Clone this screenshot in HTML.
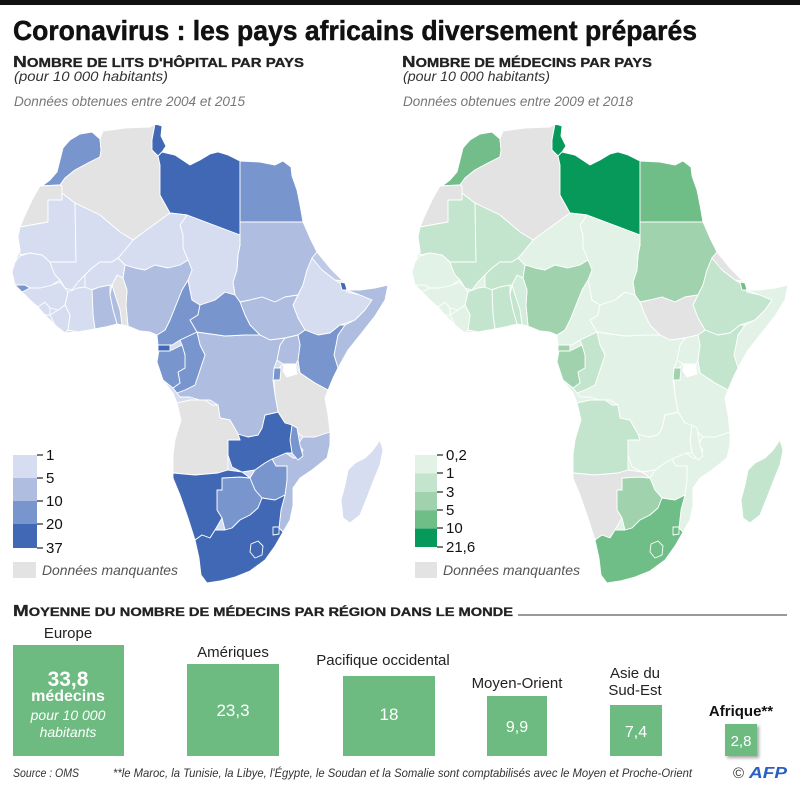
<!DOCTYPE html>
<html><head><meta charset="utf-8"><style>
html,body{margin:0;padding:0;background:#fff;}
svg{display:block;}
</style></head><body>
<svg width="800" height="790" viewBox="0 0 800 790" xmlns="http://www.w3.org/2000/svg" xmlns:xlink="http://www.w3.org/1999/xlink" font-family="'Liberation Sans', sans-serif">
<defs>
<filter id="sh" x="-30%" y="-30%" width="160%" height="160%"><feDropShadow dx="2" dy="2" stdDeviation="1.5" flood-color="#000" flood-opacity="0.35"/></filter>
<path id="af" d="M80,134 L92,132 L100,139 L103,131 L125,128 L150,127 L155,124 L162,126 L161,136 L166,146 L162,152 L175,155 L190,165 L200,160 L210,154 L218,152 L228,155 L240,161 L260,162 L275,165 L283,161 L291,167 L292,176 L297,190 L300,205 L303,220 L310,238 L317,252 L330,268 L343,281 L347,290 L360,290 L375,288 L388,285 L385,300 L375,316 L360,335 L348,350 L338,368 L330,385 L325,398 L328,415 L330,432 L330,445 L327,458 L312,470 L300,478 L293,488 L293,505 L290,520 L283,532 L275,546 L265,560 L250,571 L235,577 L220,581 L207,583 L201,575 L199,558 L195,540 L188,518 L180,495 L173,478 L173,455 L175,440 L181,420 L177,403 L173,393 L163,380 L157,362 L159,348 L157,335 L150,332 L140,331 L128,326 L117,324 L105,327 L92,330 L78,332 L65,333 L55,325 L45,315 L38,307 L30,300 L22,292 L15,285 L12,272 L15,262 L20,250 L18,237 L20,227 L25,215 L33,198 L40,186 L50,180 L57,172 L60,160 L63,148 L70,140 Z"/>
<path id="ma" d="M80,134 L92,132 L100,139 L101,150 L100,157 L88,163 L75,170 L65,178 L60,185 L42,186 L50,180 L57,172 L60,160 L63,148 L70,140 Z"/>
<path id="ws" d="M40,186 L60,185 L62,186 L62,200 L48,200 L48,222 L20,227 L25,215 L33,198 Z"/>
<path id="mr" d="M20,227 L48,222 L48,200 L62,200 L62,193 L75,203 L76,262 L50,262 L42,255 L30,253 L20,255 L20,250 L18,237 Z"/>
<path id="dz" d="M100,139 L103,131 L125,128 L150,127 L155,124 L152,140 L158,152 L158,156 L160,165 L160,195 L170,213 L133,240 L120,232 L100,215 L75,203 L62,193 L62,186 L60,185 L65,178 L75,170 L88,163 L100,157 L101,150 Z"/>
<path id="tn" d="M155,124 L162,126 L161,136 L166,146 L162,152 L158,156 L152,150 L152,140 Z"/>
<path id="ly" d="M158,156 L162,152 L175,155 L190,165 L200,160 L210,154 L218,152 L228,155 L240,161 L240,235 L187,215 L170,213 L160,195 L160,165 Z"/>
<path id="eg" d="M240,161 L260,162 L275,165 L283,161 L291,167 L292,176 L297,190 L300,205 L303,222 L240,222 Z"/>
<path id="sd" d="M240,222 L303,222 L310,238 L317,252 L312,258 L307,270 L303,285 L298,295 L285,297 L275,302 L262,297 L250,300 L240,302 L235,295 L233,282 L237,270 L238,255 L240,245 Z"/>
<path id="er" d="M317,252 L330,268 L343,281 L335,280 L322,270 L312,265 L312,258 Z"/>
<path id="et" d="M312,258 L322,270 L335,280 L343,285 L347,292 L360,295 L372,300 L365,310 L355,320 L340,325 L330,333 L318,335 L305,330 L298,318 L293,305 L298,295 L303,285 L307,270 Z"/>
<path id="dj" d="M340,282 L345,283 L347,290 L342,290 Z"/>
<path id="so" d="M347,290 L360,290 L375,288 L388,285 L385,300 L375,316 L360,335 L348,350 L338,368 L334,355 L338,335 L345,325 L355,320 L365,310 L372,300 L360,295 Z"/>
<path id="ke" d="M318,335 L330,333 L340,325 L345,325 L338,335 L334,355 L338,368 L333,378 L328,390 L315,383 L300,373 L298,360 L300,345 L298,335 L305,330 Z"/>
<path id="ss" d="M240,302 L250,300 L262,297 L275,302 L285,297 L298,295 L293,305 L298,318 L305,330 L298,335 L285,338 L270,340 L260,335 L250,325 L245,315 Z"/>
<path id="ug" d="M285,338 L298,335 L300,345 L298,360 L296,364 L283,364 L277,360 L280,345 Z"/>
<path id="tz" d="M283,364 L296,364 L300,373 L315,383 L328,390 L325,398 L328,415 L330,432 L315,437 L303,437 L295,430 L285,423 L278,412 L275,395 L274,380 L277,370 Z"/>
<path id="lv" d="M284,364 L295,364 L297,374 L287,377 L283,371 Z"/>
<path id="rw" d="M274,368 L281,368 L280,380 L273,380 Z"/>
<path id="mz" d="M303,437 L315,437 L330,432 L330,445 L327,458 L312,470 L300,478 L293,488 L293,505 L290,520 L283,532 L279,528 L281,510 L285,495 L287,480 L287,466 L276,466 L272,459 L286,453 L293,458 L300,458 L303,450 L298,444 Z"/>
<path id="mw" d="M292,425 L297,428 L300,445 L303,456 L298,460 L292,453 L290,440 Z"/>
<path id="zm" d="M265,415 L278,412 L285,423 L292,425 L290,440 L292,453 L286,453 L272,459 L265,463 L255,470 L242,472 L232,467 L228,455 L228,440 L240,440 L238,434 L248,437 L258,435 L262,428 Z"/>
<path id="cd" d="M197,332 L225,336 L245,335 L260,335 L270,340 L285,338 L280,345 L277,360 L274,368 L273,380 L275,395 L278,412 L265,415 L262,428 L258,435 L248,437 L238,434 L230,420 L220,418 L218,405 L210,400 L200,400 L190,397 L180,397 L177,393 L185,390 L195,385 L200,370 L205,355 L200,345 Z"/>
<path id="ao" d="M177,403 L190,400 L205,400 L212,405 L218,405 L220,418 L230,420 L238,434 L240,440 L228,440 L228,470 L218,473 L195,475 L173,473 L173,455 L175,440 L181,420 Z"/>
<path id="cg" d="M180,340 L197,332 L200,345 L205,355 L200,370 L195,385 L185,390 L177,393 L173,388 L180,383 L178,372 L185,368 L185,355 L182,345 Z"/>
<path id="ga" d="M159,350 L172,350 L182,345 L185,355 L185,368 L178,372 L180,383 L173,388 L163,380 L157,362 Z"/>
<path id="gq" d="M158,345 L170,345 L170,351 L158,351 Z"/>
<path id="cm" d="M157,335 L165,330 L170,320 L178,300 L182,290 L188,280 L190,290 L192,300 L200,305 L198,315 L190,320 L197,332 L180,340 L172,345 L158,345 Z"/>
<path id="cf" d="M190,320 L198,315 L200,305 L215,300 L225,292 L235,295 L240,302 L245,315 L250,325 L260,335 L245,335 L225,336 L197,332 Z"/>
<path id="td" d="M187,215 L240,235 L240,245 L238,255 L237,270 L233,282 L235,295 L225,292 L215,300 L200,305 L192,300 L190,290 L188,280 L192,270 L188,260 L183,248 L183,235 L180,225 Z"/>
<path id="ne" d="M133,240 L170,213 L187,215 L180,225 L183,235 L183,248 L188,260 L180,265 L168,268 L155,265 L145,270 L135,268 L125,265 L118,258 L125,250 Z"/>
<path id="ng" d="M125,265 L135,268 L145,270 L155,265 L168,268 L180,265 L188,260 L192,270 L188,280 L182,290 L178,300 L170,320 L165,330 L157,335 L150,332 L140,331 L128,326 L126,305 L127,290 L123,278 Z"/>
<path id="bj" d="M117,275 L123,278 L127,290 L126,305 L128,326 L122,325 L120,310 L115,295 L112,285 Z"/>
<path id="tg" d="M112,285 L115,295 L120,310 L122,325 L117,324 L113,310 L110,295 Z"/>
<path id="ml" d="M75,203 L100,215 L120,232 L133,240 L125,250 L118,258 L112,262 L100,262 L92,268 L85,275 L78,282 L72,290 L65,288 L60,280 L55,275 L52,268 L50,262 L76,262 Z"/>
<path id="bf" d="M85,275 L92,268 L100,262 L112,262 L118,258 L125,265 L123,278 L117,275 L112,285 L100,287 L90,290 L85,287 Z"/>
<path id="gh" d="M92,290 L100,287 L110,285 L110,295 L113,310 L117,324 L105,327 L95,329 L93,315 Z"/>
<path id="ci" d="M68,292 L78,288 L85,287 L92,290 L93,315 L95,329 L78,332 L68,330 L70,315 L65,305 Z"/>
<path id="lr" d="M50,315 L58,310 L65,305 L70,315 L68,330 L65,333 L55,325 Z"/>
<path id="sl" d="M38,307 L45,302 L50,308 L50,315 L45,315 Z"/>
<path id="gn" d="M22,292 L30,288 L40,288 L52,285 L60,282 L65,288 L68,292 L65,305 L58,310 L50,308 L45,302 L38,307 L30,300 Z"/>
<path id="gw" d="M15,285 L25,285 L30,288 L22,292 Z"/>
<path id="sn" d="M15,262 L20,256 L30,253 L42,255 L50,262 L52,268 L55,275 L60,280 L52,285 L40,288 L30,288 L25,285 L15,285 L12,272 Z"/>
<path id="zw" d="M255,470 L265,463 L272,459 L276,466 L287,466 L287,480 L285,495 L275,500 L262,498 L255,490 L250,478 Z"/>
<path id="bw" d="M222,478 L240,477 L250,478 L255,490 L262,498 L258,508 L250,515 L240,520 L232,528 L225,530 L222,518 L217,510 L217,490 L222,490 Z"/>
<path id="na" d="M173,473 L195,475 L218,473 L228,470 L242,472 L250,478 L240,477 L222,478 L222,490 L217,490 L217,510 L222,518 L215,530 L210,538 L202,535 L195,540 L188,518 L180,495 L173,478 Z"/>
<path id="za" d="M202,535 L210,538 L215,530 L225,530 L232,528 L240,520 L250,515 L258,508 L262,498 L275,500 L285,495 L281,510 L279,528 L283,532 L275,546 L265,560 L250,571 L235,577 L220,581 L207,583 L201,575 L199,558 L195,540 Z"/>
<path id="ls" d="M251,544 L258,541 L263,546 L262,555 L255,558 L250,552 Z"/>
<path id="sz" d="M273,527 L279,527 L279,534 L273,535 Z"/>
<path id="mg" d="M380,440 L383,450 L380,465 L375,477 L368,495 L360,515 L350,523 L343,518 L341,500 L345,485 L348,470 L355,463 L365,458 L373,450 Z"/>
</defs>

<rect x="0" y="0" width="800" height="790" fill="#fff"/>
<rect x="0" y="0" width="800" height="5" fill="#111"/>

<!-- Title -->
<text x="13" y="40" font-size="28" font-weight="bold" fill="#111" stroke="#111" stroke-width="0.5" textLength="684" lengthAdjust="spacingAndGlyphs">Coronavirus : les pays africains diversement préparés</text>

<!-- Left headers -->
<text x="13" y="67" font-weight="bold" fill="#222" stroke="#222" stroke-width="0.3" textLength="291" lengthAdjust="spacingAndGlyphs"><tspan font-size="16">N</tspan><tspan font-size="12.5">OMBRE DE LITS D'HÔPITAL PAR PAYS</tspan></text>
<text x="14" y="81" font-size="14" font-style="italic" fill="#333" textLength="154" lengthAdjust="spacingAndGlyphs">(pour 10 000 habitants)</text>
<text x="14" y="106" font-size="14" font-style="italic" fill="#777" textLength="231" lengthAdjust="spacingAndGlyphs">Données obtenues entre 2004 et 2015</text>

<!-- Right headers -->
<text x="402" y="67" font-weight="bold" fill="#222" stroke="#222" stroke-width="0.3" textLength="250" lengthAdjust="spacingAndGlyphs"><tspan font-size="16">N</tspan><tspan font-size="12.5">OMBRE DE MÉDECINS PAR PAYS</tspan></text>
<text x="403" y="81" font-size="14" font-style="italic" fill="#333" textLength="147" lengthAdjust="spacingAndGlyphs">(pour 10 000 habitants)</text>
<text x="403" y="106" font-size="14" font-style="italic" fill="#777" textLength="230" lengthAdjust="spacingAndGlyphs">Données obtenues entre 2009 et 2018</text>

<!-- Left map (hospital beds) -->
<g stroke="#fff" stroke-width="0.9" stroke-linejoin="round">
<use xlink:href="#af" href="#af" fill="#d6ddf0"/>
<use href="#ma" fill="#7895cd"/>
<use href="#ws" fill="#e3e3e3"/>
<use href="#mr" fill="#d6ddf0"/>
<use href="#dz" fill="#e3e3e3"/>
<use href="#tn" fill="#4068b5"/>
<use href="#ly" fill="#4068b5"/>
<use href="#eg" fill="#7895cd"/>
<use href="#sd" fill="#aebde0"/>
<use href="#er" fill="#bfcae8"/>
<use href="#et" fill="#d6ddf0"/>
<use href="#dj" fill="#4068b5"/>
<use href="#so" fill="#aebde0"/>
<use href="#ke" fill="#7895cd"/>
<use href="#ss" fill="#aebde0"/>
<use href="#ug" fill="#aebde0"/>
<use href="#tz" fill="#e3e3e3"/>
<use href="#lv" fill="#fff"/>
<use href="#rw" fill="#7895cd"/>
<use href="#mz" fill="#aebde0"/>
<use href="#mw" fill="#7895cd"/>
<use href="#zm" fill="#4068b5"/>
<use href="#cd" fill="#aebde0"/>
<use href="#ao" fill="#e3e3e3"/>
<use href="#cg" fill="#7895cd"/>
<use href="#ga" fill="#7895cd"/>
<use href="#gq" fill="#4068b5"/>
<use href="#cm" fill="#7895cd"/>
<use href="#cf" fill="#7895cd"/>
<use href="#td" fill="#d6ddf0"/>
<use href="#ne" fill="#d6ddf0"/>
<use href="#ng" fill="#aebde0"/>
<use href="#bj" fill="#e3e3e3"/>
<use href="#tg" fill="#aebde0"/>
<use href="#ml" fill="#d6ddf0"/>
<use href="#bf" fill="#d6ddf0"/>
<use href="#gh" fill="#aebde0"/>
<use href="#ci" fill="#d6ddf0"/>
<use href="#lr" fill="#d6ddf0"/>
<use href="#sl" fill="#d6ddf0"/>
<use href="#gn" fill="#d6ddf0"/>
<use href="#gw" fill="#7895cd"/>
<use href="#sn" fill="#d6ddf0"/>
<use href="#zw" fill="#7895cd"/>
<use href="#bw" fill="#7895cd"/>
<use href="#na" fill="#4068b5"/>
<use href="#za" fill="#4068b5"/>
<use href="#ls" fill="#4068b5"/>
<use href="#sz" fill="#4068b5"/>
<use href="#mg" fill="#d6ddf0"/>
</g>

<!-- Right map (doctors) -->
<g transform="translate(400,0)" stroke="#fff" stroke-width="0.9" stroke-linejoin="round">
<use href="#af" fill="#e2f2e7"/>
<use href="#ma" fill="#72bd89"/>
<use href="#ws" fill="#e3e3e3"/>
<use href="#mr" fill="#c3e5cd"/>
<use href="#dz" fill="#e3e3e3"/>
<use href="#tn" fill="#06995a"/>
<use href="#ly" fill="#06995a"/>
<use href="#eg" fill="#6fbd87"/>
<use href="#sd" fill="#a0d3ad"/>
<use href="#er" fill="#e3e3e3"/>
<use href="#et" fill="#c3e5cd"/>
<use href="#dj" fill="#6fbd87"/>
<use href="#so" fill="#e2f2e7"/>
<use href="#ke" fill="#c3e5cd"/>
<use href="#ss" fill="#e3e3e3"/>
<use href="#ug" fill="#e2f2e7"/>
<use href="#tz" fill="#e2f2e7"/>
<use href="#lv" fill="#fff"/>
<use href="#rw" fill="#a0d3ad"/>
<use href="#mz" fill="#e2f2e7"/>
<use href="#mw" fill="#e2f2e7"/>
<use href="#zm" fill="#e2f2e7"/>
<use href="#cd" fill="#e2f2e7"/>
<use href="#ao" fill="#c3e5cd"/>
<use href="#cg" fill="#c3e5cd"/>
<use href="#ga" fill="#a0d3ad"/>
<use href="#gq" fill="#a0d3ad"/>
<use href="#cm" fill="#e2f2e7"/>
<use href="#cf" fill="#e2f2e7"/>
<use href="#td" fill="#e2f2e7"/>
<use href="#ne" fill="#e2f2e7"/>
<use href="#ng" fill="#a0d3ad"/>
<use href="#bj" fill="#d3ecdb"/>
<use href="#tg" fill="#c3e5cd"/>
<use href="#ml" fill="#c3e5cd"/>
<use href="#bf" fill="#c3e5cd"/>
<use href="#gh" fill="#c3e5cd"/>
<use href="#ci" fill="#c3e5cd"/>
<use href="#lr" fill="#e2f2e7"/>
<use href="#sl" fill="#e2f2e7"/>
<use href="#gn" fill="#e2f2e7"/>
<use href="#gw" fill="#e2f2e7"/>
<use href="#sn" fill="#e2f2e7"/>
<use href="#zw" fill="#e2f2e7"/>
<use href="#bw" fill="#a0d3ad"/>
<use href="#na" fill="#e3e3e3"/>
<use href="#za" fill="#6fbd87"/>
<use href="#ls" fill="#6fbd87"/>
<use href="#sz" fill="#6fbd87"/>
<use href="#mg" fill="#c3e5cd"/>
</g>

<!-- Left legend -->
<rect x="13" y="455" width="24" height="23" fill="#d6ddf0"/>
<rect x="13" y="478" width="24" height="23" fill="#aebde0"/>
<rect x="13" y="501" width="24" height="23" fill="#7895cd"/>
<rect x="13" y="524" width="24" height="24" fill="#4068b5"/>
<g stroke="#222" stroke-width="1.2">
<line x1="37" y1="455" x2="43" y2="455"/><line x1="37" y1="478" x2="43" y2="478"/><line x1="37" y1="501" x2="43" y2="501"/><line x1="37" y1="524" x2="43" y2="524"/><line x1="37" y1="548" x2="43" y2="548"/>
</g>
<g font-size="15" fill="#111">
<text x="46" y="460">1</text><text x="46" y="483">5</text><text x="46" y="506">10</text><text x="46" y="529">20</text><text x="46" y="553">37</text>
</g>
<rect x="13" y="562" width="23" height="16" fill="#e3e3e3"/>
<text x="42" y="575" font-size="14" font-style="italic" fill="#555" textLength="136" lengthAdjust="spacingAndGlyphs">Données manquantes</text>

<!-- Right legend -->
<rect x="415" y="455" width="22" height="18.4" fill="#e2f2e7"/>
<rect x="415" y="473.4" width="22" height="18.4" fill="#c3e5cd"/>
<rect x="415" y="491.8" width="22" height="18.4" fill="#a0d3ad"/>
<rect x="415" y="510.2" width="22" height="18.4" fill="#6fbd87"/>
<rect x="415" y="528.6" width="22" height="18.4" fill="#06995a"/>
<g stroke="#222" stroke-width="1.2">
<line x1="437" y1="455" x2="443" y2="455"/><line x1="437" y1="473" x2="443" y2="473"/><line x1="437" y1="492" x2="443" y2="492"/><line x1="437" y1="510" x2="443" y2="510"/><line x1="437" y1="528" x2="443" y2="528"/><line x1="437" y1="547" x2="443" y2="547"/>
</g>
<g font-size="15" fill="#111">
<text x="446" y="460">0,2</text><text x="446" y="478">1</text><text x="446" y="497">3</text><text x="446" y="515">5</text><text x="446" y="533">10</text><text x="446" y="552">21,6</text>
</g>
<rect x="415" y="562" width="22" height="16" fill="#e3e3e3"/>
<text x="443" y="575" font-size="14" font-style="italic" fill="#555" textLength="137" lengthAdjust="spacingAndGlyphs">Données manquantes</text>

<!-- Bottom section heading -->
<text x="13" y="616" font-weight="bold" fill="#222" stroke="#222" stroke-width="0.3" textLength="500" lengthAdjust="spacingAndGlyphs"><tspan font-size="15.5">M</tspan><tspan font-size="12">OYENNE DU NOMBRE DE MÉDECINS PAR RÉGION DANS LE MONDE</tspan></text>
<line x1="518" y1="615" x2="787" y2="615" stroke="#333" stroke-width="1"/>

<!-- Bars -->
<g fill="#6dbb80">
<rect x="13" y="645" width="111" height="111"/>
<rect x="187" y="664" width="92" height="92"/>
<rect x="343" y="676" width="92" height="80"/>
<rect x="487" y="696" width="60" height="60"/>
<rect x="610" y="705" width="52" height="51"/>
<rect x="725" y="724" width="32" height="32" filter="url(#sh)"/>
</g>

<g font-size="15" fill="#222" text-anchor="middle">
<text x="68" y="638">Europe</text>
<text x="233" y="657">Amériques</text>
<text x="383" y="665">Pacifique occidental</text>
<text x="517" y="688">Moyen-Orient</text>
<text x="635" y="678">Asie du</text>
<text x="635" y="695">Sud-Est</text>
<text x="741" y="716" font-weight="bold" fill="#111">Afrique**</text>
</g>

<g fill="#fff" text-anchor="middle">
<text x="68" y="686" font-size="21" font-weight="bold">33,8</text>
<text x="68" y="701" font-size="16" font-weight="bold">médecins</text>
<text x="68" y="720" font-size="14" font-style="italic">pour 10 000</text>
<text x="68" y="737" font-size="14" font-style="italic">habitants</text>
<text x="233" y="716" font-size="17">23,3</text>
<text x="389" y="720" font-size="17">18</text>
<text x="517" y="732" font-size="16">9,9</text>
<text x="636" y="737" font-size="16">7,4</text>
<text x="741" y="746" font-size="15">2,8</text>
</g>

<!-- Footer -->
<text x="13" y="777" font-size="12" font-style="italic" fill="#333" textLength="66" lengthAdjust="spacingAndGlyphs">Source : OMS</text>
<text x="113" y="777" font-size="12" font-style="italic" fill="#333" textLength="579" lengthAdjust="spacingAndGlyphs">**le Maroc, la Tunisie, la Libye, l'Égypte, le Soudan et la Somalie sont comptabilisés avec le Moyen et Proche-Orient</text>
<text x="733" y="778" font-size="15" fill="#333">©</text>
<text x="749" y="778" font-size="16" font-weight="bold" font-style="italic" fill="#2a5fc4" textLength="38" lengthAdjust="spacingAndGlyphs">AFP</text>
</svg>
</body></html>
